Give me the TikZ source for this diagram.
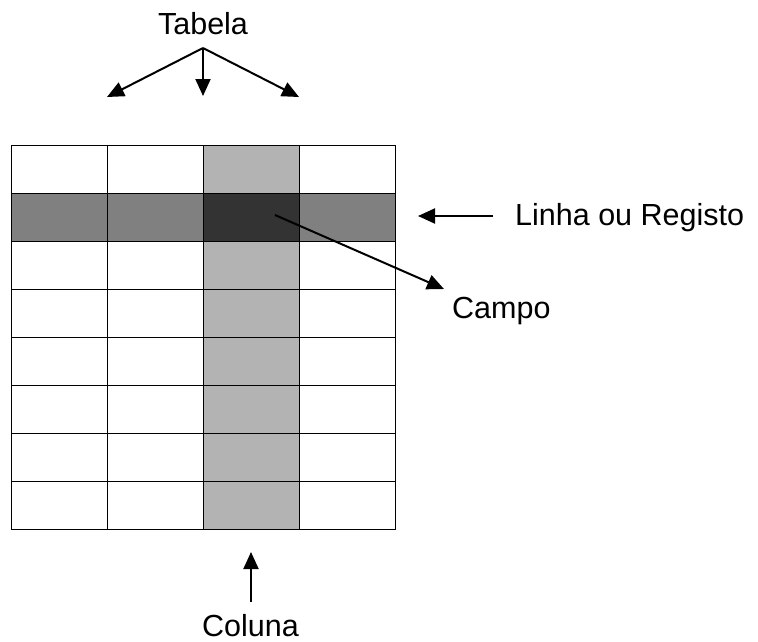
\documentclass[tikz,border=0pt]{standalone}
\usepackage{fontspec}
\setmainfont{Liberation Sans}
\usetikzlibrary{arrows.meta}
\definecolor{colgray}{HTML}{B3B3B3}
\definecolor{rowgray}{HTML}{808080}
\definecolor{cellgray}{HTML}{333333}
\begin{document}
\begin{tikzpicture}[x=1pt,y=-1pt,
  cellbox/.style={draw=black,line width=1pt,minimum width=96pt,minimum height=48pt,inner sep=0pt,outer sep=0pt},
  lbl/.style={font=\fontsize{30.5}{36}\selectfont,inner sep=0pt},
  pointer/.style={line width=2pt,-{Triangle[length=17pt,width=15pt]}}]
\useasboundingbox (0,0) rectangle (758,641);
% cells
\foreach \r in {1,...,8}{
  \foreach \c in {1,...,4}{
    \pgfmathsetmacro{\cx}{11+96*(\c-1)+48}
    \pgfmathsetmacro{\cy}{145+48*(\r-1)+24}
    \ifnum\r=2
      \ifnum\c=3
        \node[cellbox,fill=cellgray] (cell-\r-\c) at (\cx,\cy) {};
      \else
        \node[cellbox,fill=rowgray] (cell-\r-\c) at (\cx,\cy) {};
      \fi
    \else
      \ifnum\c=3
        \node[cellbox,fill=colgray] (cell-\r-\c) at (\cx,\cy) {};
      \else
        \node[cellbox,fill=white] (cell-\r-\c) at (\cx,\cy) {};
      \fi
    \fi
  }
}
% labels
\node[lbl,anchor=base] (tabela) at (203,34) {Tabela};
\node[lbl,anchor=base west] (linha) at (515,225) {Linha ou Registo};
\node[lbl,anchor=base west] (campo) at (452,318) {Campo};
\node[lbl,anchor=base west] (coluna) at (202,636) {Coluna};
% arrow endpoints
\coordinate (tabsrc) at (203,48);
\coordinate (tabL) at (107,97);
\coordinate (tabM) at (203,96);
\coordinate (tabR) at (299,97);
\coordinate (linsrc) at (493,216);
\coordinate (lintip) at (418,216);
\coordinate (campsrc) at (275,215);
\coordinate (camptip) at (444,289);
\coordinate (colsrc) at (251,602);
\coordinate (coltip) at (251,552);
% arrows
\draw[pointer] (tabsrc) -- (tabL);
\draw[pointer] (tabsrc) -- (tabM);
\draw[pointer] (tabsrc) -- (tabR);
\draw[pointer] (linsrc) -- (lintip);
\draw[pointer] (campsrc) -- (camptip);
\draw[pointer] (colsrc) -- (coltip);
\end{tikzpicture}
\end{document}
